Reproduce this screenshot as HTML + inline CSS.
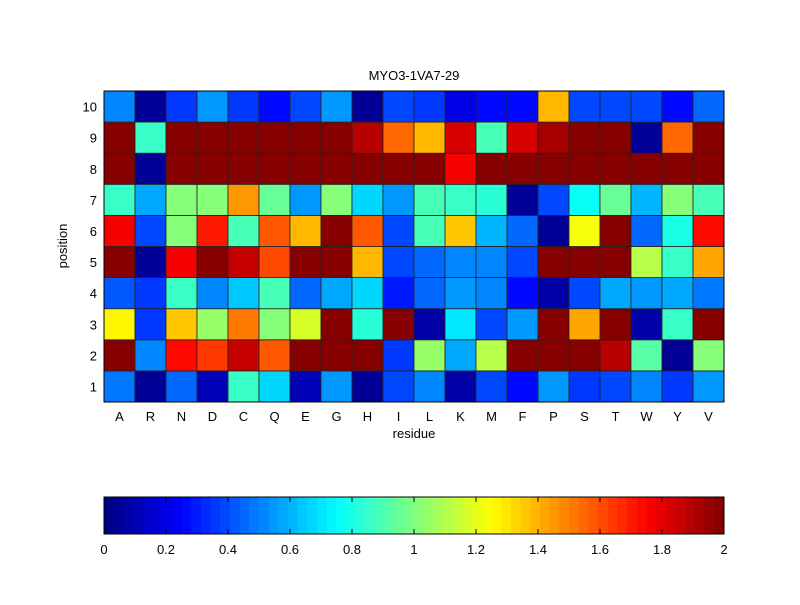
<!DOCTYPE html>
<html><head><meta charset="utf-8"><style>
body{margin:0;background:#fff;}
svg text{font-family:"Liberation Sans",sans-serif;font-size:13px;fill:#000;}
</style></head><body>
<svg id="chart" width="800" height="600" xmlns="http://www.w3.org/2000/svg">
<rect width="800" height="600" fill="#fff"/>
<text x="414" y="80" text-anchor="middle">MYO3-1VA7-29</text>
<text x="414" y="438" text-anchor="middle">residue</text>
<text transform="translate(67,246) rotate(-90)" text-anchor="middle">position</text>
<g id="cells"></g>
<g id="axes"></g>
<g id="cbar"></g>
</svg>
<script>
const residues = ["A","R","N","D","C","Q","E","G","H","I","L","K","M","F","P","S","T","W","Y","V"];
const positions = [1,2,3,4,5,6,7,8,9,10];
const row1  = [0.47,0.05,0.45,0.12,0.87,0.68,0.10,0.55,0.05,0.40,0.50,0.08,0.40,0.25,0.55,0.35,0.40,0.50,0.35,0.55];
const row2  = [2,0.52,1.73,1.65,1.85,1.58,2,2,2,0.37,1.05,0.57,1.12,2,2,2,1.9,0.93,0.05,1.03];
const row3  = [1.25,0.35,1.35,1.05,1.52,1.0,1.18,2,0.83,2,0.08,0.7,0.4,0.55,2,1.43,2,0.08,0.85,2];
const row4  = [0.42,0.37,0.87,0.52,0.65,0.88,0.45,0.57,0.68,0.3,0.45,0.55,0.52,0.28,0.08,0.38,0.57,0.55,0.57,0.48];
const row5  = [2,0.05,1.75,2,1.85,1.62,2,2,1.38,0.4,0.45,0.52,0.5,0.4,2,2,2,1.1,0.85,1.42];
const row6  = [1.75,0.4,1.0,1.7,0.88,1.58,1.38,2,1.58,0.4,0.9,1.35,0.62,0.45,0.05,1.22,2,0.45,0.8,1.72];
const row7  = [0.87,0.57,1.0,1.0,1.45,0.95,0.55,1.0,0.67,0.55,0.9,0.85,0.83,0.05,0.4,0.75,0.95,0.6,1.0,0.88];
const row8  = [2,0.05,2,2,2,2,2,2,2,2,2,1.75,2,2,2,2,2,2,2,2];
const row9  = [2,0.85,2,2,2,2,2,2,1.9,1.55,1.4,1.82,0.9,1.82,1.92,2,2,0.05,1.55,2];
const row10 = [0.5,0.05,0.37,0.55,0.35,0.28,0.4,0.55,0.05,0.4,0.35,0.2,0.25,0.25,1.4,0.4,0.4,0.4,0.27,0.45];
const values = [row1,row2,row3,row4,row5,row6,row7,row8,row9,row10];
const cbTicks = [0,0.2,0.4,0.6,0.8,1,1.2,1.4,1.6,1.8,2];

const NS="http://www.w3.org/2000/svg";
const X0=104,X1=724,Y0=91,Y1=402,VMIN=0,VMAX=2;
const cw=(X1-X0)/residues.length, ch=(Y1-Y0)/positions.length;
const xPos=i=>X0+i*cw, yPos=p=>Y1-p*ch;
function jet(t){
  t=Math.max(0,Math.min(1,t));
  const k=Math.min(63,Math.floor(t*64)); t=(k+0.5)/64;
  const f=x=>Math.max(0,Math.min(1,1.5-Math.abs(4*t-x)));
  return `rgb(${Math.round(255*f(3))},${Math.round(255*f(2))},${Math.round(255*f(1))})`;
}
function mk(tag,attrs,parent){const e=document.createElementNS(NS,tag);for(const k in attrs)e.setAttribute(k,attrs[k]);parent.appendChild(e);return e;}
const cells=document.getElementById('cells'), axes=document.getElementById('axes'), cb=document.getElementById('cbar');
values.forEach((row,r)=>row.forEach((v,c)=>{
  const e=mk('rect',{x:xPos(c),y:yPos(r+1),width:cw,height:ch,fill:jet((v-VMIN)/(VMAX-VMIN)),stroke:'#222','stroke-width':0.8},cells);
  
  
}));
mk('rect',{x:X0,y:Y0,width:X1-X0,height:Y1-Y0,fill:'none',stroke:'#000','stroke-width':1},axes);
residues.forEach((lab,i)=>{
  const t=mk('text',{x:xPos(i)+cw/2,y:421,'text-anchor':'middle'},axes);t.textContent=lab;
  
  
});
positions.forEach((p,i)=>{
  const t=mk('text',{x:97,y:yPos(i)-ch/2+5,'text-anchor':'end'},axes);t.textContent=p;
  
  
});
const CX0=104,CX1=724,CY0=497,CY1=534;
const cx=v=>CX0+(v-VMIN)/(VMAX-VMIN)*(CX1-CX0);
for(let k=0;k<64;k++){
  mk('rect',{x:CX0+k*(CX1-CX0)/64,y:CY0,width:(CX1-CX0)/64+0.5,height:CY1-CY0,fill:jet((k+0.5)/64)},cb);
}
mk('rect',{x:CX0,y:CY0,width:CX1-CX0,height:CY1-CY0,fill:'none',stroke:'#000','stroke-width':1},cb);
cbTicks.forEach(v=>{
  mk('line',{x1:cx(v),x2:cx(v),y1:CY1,y2:CY1-5,stroke:'#000'},cb);
  mk('line',{x1:cx(v),x2:cx(v),y1:CY0,y2:CY0+5,stroke:'#000'},cb);
  const t=mk('text',{x:cx(v),y:554,'text-anchor':'middle'},cb);t.textContent=String(v);
  
  
});
</script>
</body></html>
